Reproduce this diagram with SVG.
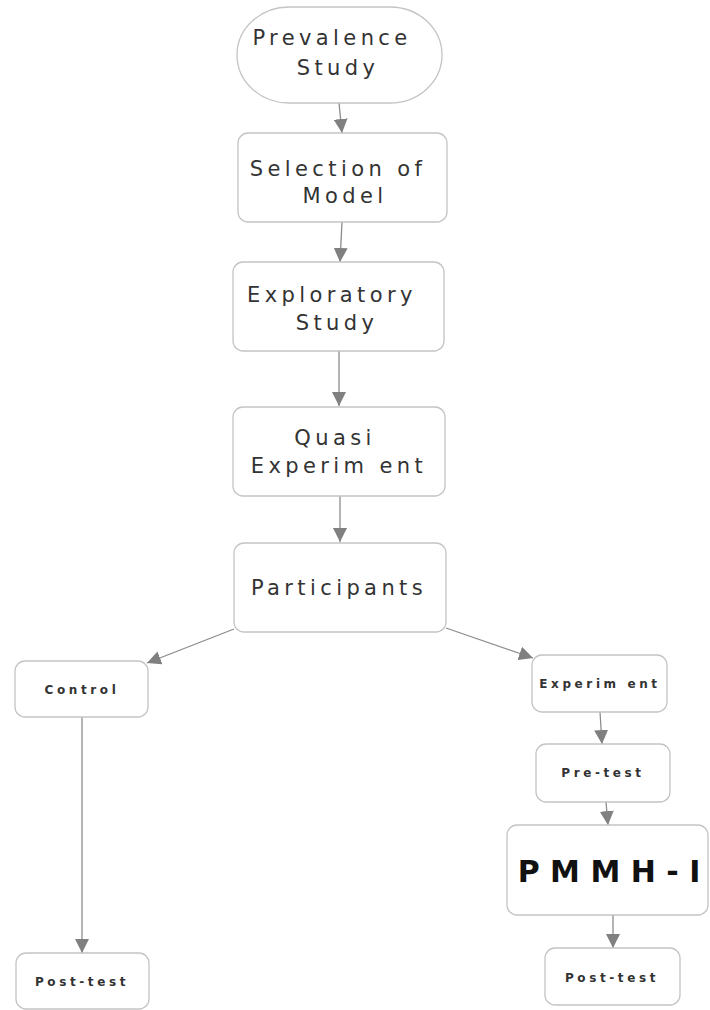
<svg xmlns="http://www.w3.org/2000/svg" width="710" height="1010" viewBox="0 0 710 1010">
<defs>
<marker id="ah" viewBox="0 0 10 10" refX="10" refY="5" markerWidth="14" markerHeight="14" markerUnits="userSpaceOnUse" orient="auto">
<path d="M0,0 L10,5 L0,10 z" fill="#808080"/>
</marker>
<style>
.box{fill:#fff;stroke:#c4c4c4;stroke-width:1.3}
.big{font-family:"DejaVu Sans",Verdana,sans-serif;font-size:21px;letter-spacing:4.4px;fill:#333;text-anchor:middle}
.sm{font-family:"DejaVu Sans",Verdana,sans-serif;font-size:12px;font-weight:bold;letter-spacing:3.6px;fill:#333;text-anchor:middle}
.con{stroke:#8c8c8c;stroke-width:1.3;fill:none;marker-end:url(#ah)}
</style>
</defs>
<rect width="710" height="1010" fill="#fff"/>
<g id="connectors">
<line class="con" x1="339" y1="103" x2="342" y2="133"/>
<line class="con" x1="342" y1="222" x2="340" y2="262"/>
<line class="con" x1="339" y1="351" x2="339" y2="406"/>
<line class="con" x1="340" y1="496" x2="340" y2="542"/>
<line class="con" x1="234" y1="629" x2="147" y2="663"/>
<line class="con" x1="446" y1="628" x2="533" y2="658"/>
<line class="con" x1="600" y1="712" x2="602" y2="744"/>
<line class="con" x1="606" y1="802" x2="608" y2="825"/>
<line class="con" x1="613" y1="915" x2="613" y2="948"/>
<line class="con" x1="82" y1="717" x2="82" y2="953"/>
</g>
<g id="prevalence">
<rect class="box" x="237" y="7" width="205" height="96" rx="52" ry="48"/>
<text class="big" x="332" y="45">Prevalence</text>
<text class="big" x="338" y="75">Study</text>
</g>
<g id="selection">
<rect class="box" x="238" y="133" width="209" height="89" rx="10"/>
<text class="big" x="338" y="176">Selection of</text>
<text class="big" x="345" y="203">Model</text>
</g>
<g id="exploratory">
<rect class="box" x="233" y="262" width="211" height="89" rx="10"/>
<text class="big" x="332" y="302">Exploratory</text>
<text class="big" x="337" y="330">Study</text>
</g>
<g id="quasi">
<rect class="box" x="233" y="407" width="212" height="89" rx="10"/>
<text class="big" x="335" y="445">Quasi</text>
<text class="big" x="339" y="473">Experim ent</text>
</g>
<g id="participants">
<rect class="box" x="234" y="543" width="212" height="89" rx="10"/>
<text class="big" x="339" y="595">Participants</text>
</g>
<g id="control">
<rect class="box" x="15" y="661" width="133" height="56" rx="10"/>
<text class="sm" x="82" y="694">Control</text>
</g>
<g id="experiment">
<rect class="box" x="532" y="655" width="135" height="57" rx="10"/>
<text class="sm" x="600" y="688">Experim ent</text>
</g>
<g id="pretest">
<rect class="box" x="536" y="744" width="134" height="58" rx="10"/>
<text class="sm" x="603" y="777">Pre-test</text>
</g>
<g id="pmmh">
<rect class="box" x="507" y="825" width="201" height="90" rx="10"/>
<text x="609" y="882" font-family="DejaVu Sans,Verdana,sans-serif" font-size="30" font-weight="bold" fill="#111" text-anchor="middle">P M M H - I</text>
</g>
<g id="posttest-right">
<rect class="box" x="545" y="948" width="135" height="57" rx="10"/>
<text class="sm" x="612" y="982">Post-test</text>
</g>
<g id="posttest-left">
<rect class="box" x="16" y="953" width="133" height="56" rx="10"/>
<text class="sm" x="82" y="986">Post-test</text>
</g>
</svg>
